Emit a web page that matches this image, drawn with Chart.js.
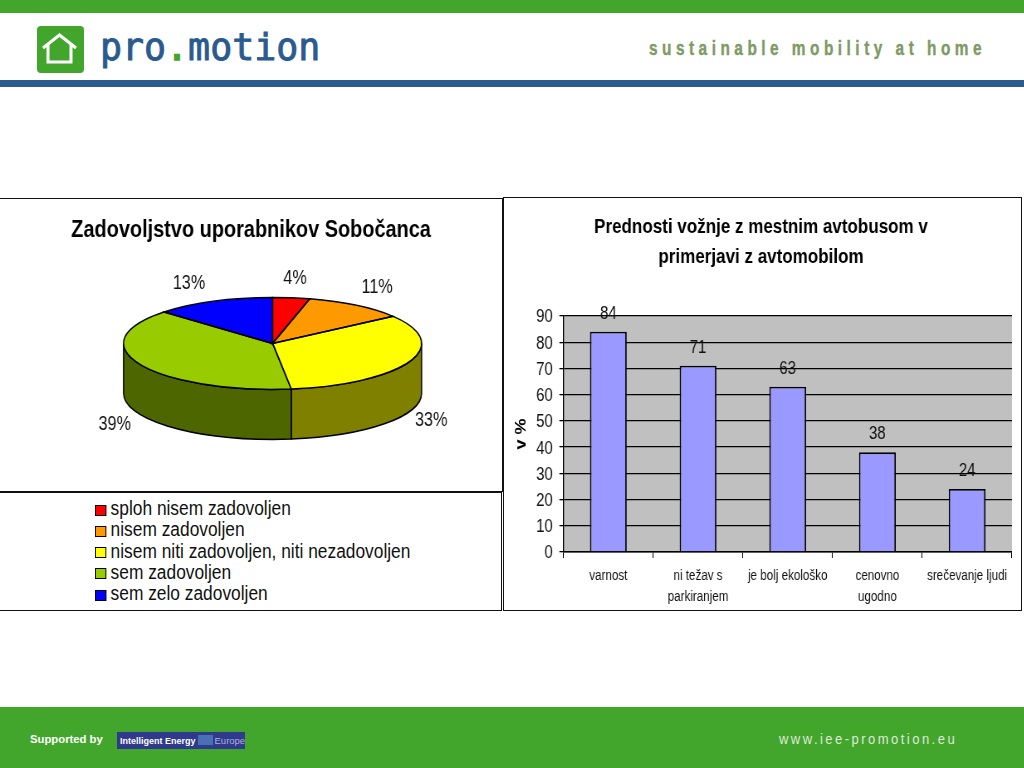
<!DOCTYPE html>
<html>
<head>
<meta charset="utf-8">
<title>Zadovoljstvo uporabnikov</title>
<script src="https://cdn.jsdelivr.net/npm/chart.js@4"></script>
<style>
    html, body { margin: 0; padding: 0; background: #fff; }
    #slide { position: relative; width: 1024px; height: 768px; overflow: hidden; font-family: "Liberation Sans", Arial, sans-serif; }
    .abs { position: absolute; }
    #topBar { left: 0; top: 0; width: 1024px; height: 13px; background: #42a62c; }
    #blueBar { left: 0; top: 80px; width: 1024px; height: 7px; background: #2a5a8e; }
    #bottomBar { left: 0; top: 707px; width: 1024px; height: 61px; background: #42a62c; }
    #brand { left: 100px; top: 27px; font: 36.6px "DejaVu Sans Mono", monospace; -webkit-text-stroke: 0.9px #2a5a8e; color: #2a5a8e; line-height: 42px; }
    #brand span { color: #42a62c; -webkit-text-stroke: 1.5px #42a62c; }
    #slogan { left: 649px; top: 36px; font: bold 20.5px "Liberation Sans", sans-serif; -webkit-text-stroke: 0.4px #7f9a66; color: #7f9a66; letter-spacing: 6px; white-space: nowrap; line-height: 24px; transform: scaleX(0.75); transform-origin: 0 0; }
    #supported { left: 30px; top: 733px; font: bold 11.3px "Liberation Sans", sans-serif; color: #fff; line-height: 13px; }
    #ieeBox { left: 117px; top: 732px; width: 128px; height: 17px; background: #2f3a8c; color: #fff; font: bold 9px "Liberation Sans", sans-serif; line-height: 17px; white-space: nowrap; }
    #ieeBox span { margin-left: 3px; }
    #ieeBox i { display: inline-block; width: 15px; height: 10px; margin: 0 2px; background: #4a6fb5; vertical-align: -1px; }
    #ieeBox b { font-weight: normal; color: #a9b4dc; font-size: 9.5px; }
    #www { left: 779px; top: 731px; font: 14px "Liberation Sans", sans-serif; color: #dfe9d8; letter-spacing: 2.65px; line-height: 17px; white-space: nowrap; transform: scaleX(0.93); transform-origin: 0 0; }
    #piePanel { left: -2px; top: 198px; width: 505px; height: 294px; border: 1.8px solid #111; box-sizing: border-box; }
    #legendPanel { left: -2px; top: 492px; width: 503.5px; height: 119px; border: 1.8px solid #111; box-sizing: border-box; }
    #barPanel { left: 503px; top: 197px; width: 519px; height: 414px; border: 1.8px solid #111; box-sizing: border-box; }
    /* the source slide has condensed text: canvases are drawn wider and squeezed back */
    #pieChart { left: 0; top: 199px; transform: scaleX(0.83); transform-origin: 0 0; }
    #barChart { left: 504px; top: 199px; transform: scaleX(0.83); transform-origin: 0 0; }
    #pieLegend { left: 95px; top: 498px; font: 20px "Liberation Sans", sans-serif; color: #111; transform: scaleX(0.867); transform-origin: 0 0; }
    #pieLegend div { height: 21.25px; line-height: 21.25px; white-space: nowrap; }
    #pieLegend i { display: inline-block; width: 11px; height: 9px; border: 1px solid #000; margin-right: 5px; vertical-align: -0.5px; }
</style>
</head>
<body>
<div id="slide">
    <div class="abs" id="topBar"></div>
    <svg class="abs" style="left:37px;top:26px" width="47" height="47" viewBox="0 0 47 47">
        <rect width="47" height="47" rx="4" fill="#42a62c"/>
        <path d="M6 22 L22.5 9 L39 22 M11 19 V36 H34 V19" fill="none" stroke="#fff" stroke-width="3"/>
    </svg>
    <div class="abs" id="brand">pro<span>.</span>motion</div>
    <div class="abs" id="slogan">sustainable mobility at home</div>
    <div class="abs" id="blueBar"></div>

    <div class="abs" id="piePanel"></div>
    <div class="abs" id="legendPanel"></div>
    <div class="abs" id="barPanel"></div>
    <canvas class="abs" id="pieChart" width="605" height="293"></canvas>
    <div class="abs" id="pieLegend"></div>
    <canvas class="abs" id="barChart" width="624" height="411"></canvas>

    <div class="abs" id="bottomBar"></div>
    <div class="abs" id="supported">Supported by</div>
    <div class="abs" id="ieeBox"><span>Intelligent Energy</span><i></i><b>Europe</b></div>
    <div class="abs" id="www">www.iee-promotion.eu</div>
</div>

<script>
const satisfactionLabels = ['sploh nisem zadovoljen', 'nisem zadovoljen', 'nisem niti zadovoljen, niti nezadovoljen', 'sem zadovoljen', 'sem zelo zadovoljen'];
const satisfactionValues = [4, 11, 33, 39, 13];
const satisfactionColors = ['#ff0000', '#ff9900', '#ffff00', '#99cc00', '#0000ff'];

const benefitLabels = ['varnost', ['ni težav s', 'parkiranjem'], 'je bolj ekološko', ['cenovno', 'ugodno'], 'srečevanje ljudi'];
const benefitValues = [84, 71, 63, 38, 24];

const FONT = '"Liberation Sans", sans-serif';
const squeeze = 0.83;

// the pie is flattened to an ellipse and given a wall
const pieRadius = 149 / squeeze;
const flatten = 46 / pieRadius;
const depth = 50;
const titleShift = 43 / squeeze;
const labelNudge = [[0, -10], [4, -10], [-5.5, 5], [1.5, 6], [-12.5, -9]];

function darker(hex) {
    const n = parseInt(hex.slice(1), 16);
    const half = (v) => Math.round(v / 2);
    return `rgb(${half(n >> 16)},${half((n >> 8) & 255)},${half(n & 255)})`;
}

const pie3d = {
    id: 'pie3d',
    afterLayout(chart) {
        // the title is centred on the panel, the pie is not
        chart.titleBlock.left -= titleShift;
    },
    beforeDatasetsDraw(chart) {
        const ctx = chart.ctx;
        const arcs = chart.getDatasetMeta(0).data;
        const x0 = arcs[0].x, y0 = arcs[0].y, r = arcs[0].outerRadius;
        // front wall, only the part of each slice between 0 and PI shows
        arcs.forEach((arc, i) => {
            const from = Math.max(arc.startAngle, 0);
            const to = Math.min(arc.endAngle, Math.PI);
            if (to <= from) return;
            ctx.save();
            ctx.beginPath();
            ctx.ellipse(x0, y0, r, r * flatten, 0, from, to);
            ctx.ellipse(x0, y0 + depth, r, r * flatten, 0, to, from, true);
            ctx.closePath();
            ctx.fillStyle = darker(satisfactionColors[i]);
            ctx.fill();
            ctx.lineWidth = 1.5;
            ctx.strokeStyle = '#000';
            ctx.stroke();
            ctx.restore();
        });
        ctx.save();
        ctx.translate(x0, y0);
        ctx.scale(1, flatten);
        ctx.translate(-x0, -y0);
    },
    afterDatasetsDraw(chart) {
        const ctx = chart.ctx;
        ctx.restore();
        const arcs = chart.getDatasetMeta(0).data;
        ctx.save();
        ctx.lineWidth = 1.5;
        ctx.strokeStyle = '#000';
        arcs.forEach((arc) => {
            const r = arc.outerRadius;
            ctx.beginPath();
            ctx.moveTo(arc.x, arc.y);
            ctx.ellipse(arc.x, arc.y, r, r * flatten, 0, arc.startAngle, arc.endAngle);
            ctx.closePath();
            ctx.stroke();
        });
        // percent labels
        ctx.font = '19.5px ' + FONT;
        ctx.fillStyle = '#111';
        ctx.textAlign = 'center';
        ctx.textBaseline = 'middle';
        arcs.forEach((arc, i) => {
            const mid = (arc.startAngle + arc.endAngle) / 2;
            const r = arc.outerRadius * 1.2;
            const x = arc.x + Math.cos(mid) * r + labelNudge[i][0] / squeeze;
            const front = Math.sin(mid) > 0 ? depth : 0;
            const y = arc.y + Math.sin(mid) * r * flatten + front + labelNudge[i][1];
            ctx.fillText(satisfactionValues[i] + '%', x, y);
        });
        ctx.restore();
    }
};

new Chart(document.getElementById('pieChart'), {
    type: 'pie',
    data: {
        labels: satisfactionLabels,
        datasets: [{
            data: satisfactionValues,
            backgroundColor: satisfactionColors,
            borderWidth: 0,
            clip: false
        }]
    },
    options: {
        responsive: false,
        animation: false,
        radius: pieRadius,
        layout: { padding: { left: titleShift, bottom: 50 } },
        plugins: {
            legend: { display: false },
            tooltip: { enabled: false },
            title: {
                display: true,
                text: 'Zadovoljstvo uporabnikov Sobočanca',
                color: '#000',
                font: { family: FONT, size: 24, weight: 'bold' },
                padding: { top: 17, bottom: 0 }
            }
        }
    },
    plugins: [pie3d]
});

// legend goes below the pie in its own box
const legendBox = document.getElementById('pieLegend');
satisfactionLabels.forEach((label, i) => {
    const row = document.createElement('div');
    const swatch = document.createElement('i');
    swatch.style.background = satisfactionColors[i];
    row.appendChild(swatch);
    row.appendChild(document.createTextNode(label));
    legendBox.appendChild(row);
});

const plotBackground = {
    id: 'plotBackground',
    beforeDraw(chart) {
        const a = chart.chartArea;
        chart.ctx.save();
        chart.ctx.fillStyle = '#c0c0c0';
        chart.ctx.fillRect(a.left, a.top, a.width, a.height);
        chart.ctx.restore();
    }
};

const barValues = {
    id: 'barValues',
    afterDatasetsDraw(chart) {
        const ctx = chart.ctx;
        ctx.save();
        ctx.font = '18px ' + FONT;
        ctx.fillStyle = '#111';
        ctx.textAlign = 'center';
        ctx.textBaseline = 'middle';
        chart.getDatasetMeta(0).data.forEach((bar, i) => {
            ctx.fillText(benefitValues[i], bar.x, bar.y - 18);
        });
        ctx.restore();
    }
};

new Chart(document.getElementById('barChart'), {
    type: 'bar',
    data: {
        labels: benefitLabels,
        datasets: [{
            data: benefitValues,
            backgroundColor: '#9999ff',
            borderColor: '#000',
            borderWidth: 1.8,
            categoryPercentage: 1,
            barPercentage: 0.41
        }]
    },
    options: {
        responsive: false,
        animation: false,
        layout: { padding: { left: 6 / squeeze, right: 10 / squeeze, top: 0, bottom: 0 } },
        plugins: {
            legend: { display: false },
            tooltip: { enabled: false },
            title: {
                display: true,
                text: ['Prednosti vožnje z mestnim avtobusom v', 'primerjavi z avtomobilom'],
                color: '#000',
                font: { family: FONT, size: 20.5, weight: 'bold', lineHeight: 30 / 20.5 },
                padding: { top: 13, bottom: 44 }
            }
        },
        scales: {
            x: {
                grid: { drawOnChartArea: false, color: '#000', lineWidth: 1, tickLength: 6 },
                border: { color: '#000', width: 1.5 },
                ticks: {
                    color: '#111',
                    maxRotation: 0,
                    autoSkip: false,
                    padding: 8,
                    font: { family: FONT, size: 14, lineHeight: 21 / 14 }
                },
                afterFit(scale) { scale.height = 58; }
            },
            y: {
                min: 0,
                max: 90,
                ticks: {
                    stepSize: 10,
                    color: '#111',
                    padding: 8,
                    labelOffset: 1.5,
                    font: { family: FONT, size: 18 }
                },
                grid: { color: '#000', lineWidth: 1.3, tickLength: 5 },
                border: { color: '#000', width: 1.3 },
                title: {
                    display: true,
                    text: 'v %',
                    color: '#000',
                    font: { family: FONT, size: 18, weight: 'bold' },
                    padding: { top: 3, bottom: 0 }
                },
                afterFit(scale) { scale.width = 53.5 / squeeze; }
            }
        }
    },
    plugins: [plotBackground, barValues]
});
</script>
</body>
</html>
